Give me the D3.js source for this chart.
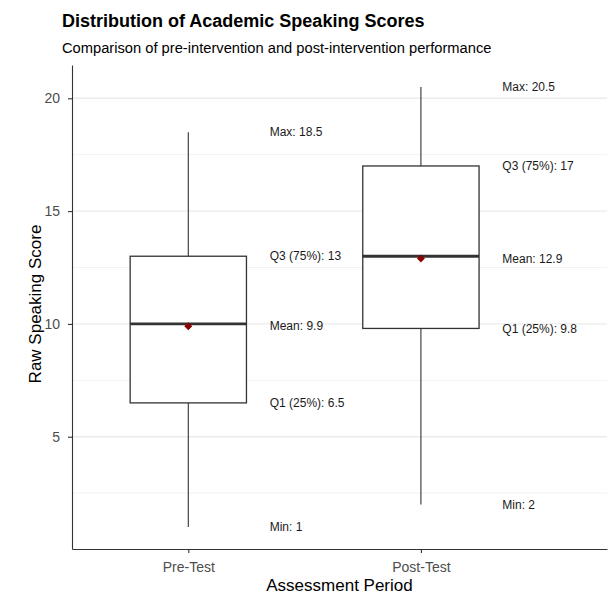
<!DOCTYPE html>
<html>
<head>
<meta charset="utf-8">
<script src="https://cdn.jsdelivr.net/npm/d3@7"></script>
<style>
  body { margin: 0; background: #fff; }
  svg { font-family: "Liberation Sans", Arial, sans-serif; display: block; }
</style>
</head>
<body>
<svg id="chart"></svg>
<script>
// data
const categories = ["Pre-Test", "Post-Test"];
const minScores = [1, 2];
const q1Scores = [6.5, 9.8];
const medianScores = [10, 13];
const q3Scores = [13, 17];
const maxScores = [18.5, 20.5];
const meanScores = [9.9, 12.9];
const yTicks = [5, 10, 15, 20];
const yMinorTicks = [2.5, 7.5, 12.5, 17.5];

const width = 608, height = 595;
const margin = { top: 65, right: 1, bottom: 46, left: 72 };

const svg = d3.select('#chart')
    .attr('width', width)
    .attr('height', height);

// categories sit at 1 and 2, labels are placed at +0.35
const xScale = d3.scaleLinear()
    .domain([0.5, 2.8])
    .range([margin.left, width - margin.right]);

const yScale = d3.scaleLinear()
    .domain([0.025, 21.475])
    .range([height - margin.bottom, margin.top]);

const boxes = categories.map((c, i) => ({
  name: c, pos: i + 1,
  min: minScores[i], q1: q1Scores[i], median: medianScores[i],
  q3: q3Scores[i], max: maxScores[i], mean: meanScores[i]
}));

// gridlines
svg.append('g')
  .selectAll('line')
  .data(yMinorTicks)
  .join('line')
    .attr('x1', margin.left).attr('x2', width - margin.right)
    .attr('y1', d => yScale(d)).attr('y2', d => yScale(d))
    .attr('stroke', '#f2f2f2').attr('stroke-width', 1);

svg.append('g')
  .selectAll('line')
  .data(yTicks)
  .join('line')
    .attr('x1', margin.left).attr('x2', width - margin.right)
    .attr('y1', d => yScale(d)).attr('y2', d => yScale(d))
    .attr('stroke', '#ebebeb').attr('stroke-width', 1.4);

// axes
const yAxis = d3.axisLeft(yScale).tickValues(yTicks)
    .tickSizeInner(4).tickSizeOuter(0).tickPadding(8);
const yAxisG = svg.append('g')
    .attr('transform', `translate(${margin.left},0)`)
    .call(yAxis);
yAxisG.select('.domain').attr('stroke', '#333').attr('stroke-width', 1.1);
yAxisG.selectAll('.tick line').attr('stroke', '#333').attr('stroke-width', 1.1);
yAxisG.selectAll('.tick text').attr('fill', '#4d4d4d').style('font-size', '14px')
    .style('font-family', '"Liberation Sans", Arial, sans-serif');

const xAxis = d3.axisBottom(xScale)
    .tickValues(boxes.map(d => d.pos))
    .tickFormat(d => categories[d - 1])
    .tickSizeInner(4).tickSizeOuter(0).tickPadding(9);
const xAxisG = svg.append('g')
    .attr('transform', `translate(0,${height - margin.bottom})`)
    .call(xAxis);
xAxisG.select('.domain').attr('stroke', '#333').attr('stroke-width', 1.1);
xAxisG.selectAll('.tick line').attr('stroke', '#333').attr('stroke-width', 1.1);
xAxisG.selectAll('.tick text').attr('fill', '#4d4d4d').style('font-size', '14px')
    .style('font-family', '"Liberation Sans", Arial, sans-serif');

// boxplots
const boxW = 0.5;
const g = svg.append('g');

g.selectAll('.whisker')
  .data(boxes)
  .join('line')
    .attr('class', 'whisker')
    .attr('x1', d => xScale(d.pos)).attr('x2', d => xScale(d.pos))
    .attr('y1', d => yScale(d.min)).attr('y2', d => yScale(d.max))
    .attr('stroke', '#333').attr('stroke-width', 1.1);

g.selectAll('.box')
  .data(boxes)
  .join('rect')
    .attr('class', 'box')
    .attr('x', d => xScale(d.pos - boxW / 2))
    .attr('width', d => xScale(d.pos + boxW / 2) - xScale(d.pos - boxW / 2))
    .attr('y', d => yScale(d.q3))
    .attr('height', d => yScale(d.q1) - yScale(d.q3))
    .attr('fill', '#fff').attr('stroke', '#333').attr('stroke-width', 1.3);

g.selectAll('.median')
  .data(boxes)
  .join('line')
    .attr('class', 'median')
    .attr('x1', d => xScale(d.pos - boxW / 2)).attr('x2', d => xScale(d.pos + boxW / 2))
    .attr('y1', d => yScale(d.median)).attr('y2', d => yScale(d.median))
    .attr('stroke', '#333').attr('stroke-width', 2.8);

g.selectAll('.mean')
  .data(boxes)
  .join('path')
    .attr('class', 'mean')
    .attr('d', d3.symbol(d3.symbolDiamond2, 40))
    .attr('transform', d => `translate(${xScale(d.pos)},${yScale(d.mean)})`)
    .attr('fill', '#8b0000');

// annotations next to each box
const labels = [];
boxes.forEach(d => {
  labels.push({ pos: d.pos, v: d.max, t: `Max: ${d.max}` });
  labels.push({ pos: d.pos, v: d.q3, t: `Q3 (75%): ${d.q3}` });
  labels.push({ pos: d.pos, v: d.mean, t: `Mean: ${d.mean}` });
  labels.push({ pos: d.pos, v: d.q1, t: `Q1 (25%): ${d.q1}` });
  labels.push({ pos: d.pos, v: d.min, t: `Min: ${d.min}` });
});

g.selectAll('.ann')
  .data(labels)
  .join('text')
    .attr('class', 'ann')
    .attr('x', d => xScale(d.pos + 0.35))
    .attr('y', d => yScale(d.v))
    .attr('dy', '0.35em')
    .style('font-size', '12px')
    .attr('fill', '#1a1a1a')
    .text(d => d.t);

// titles
svg.append('text')
    .attr('x', 62).attr('y', 27)
    .style('font-size', '18px').style('font-weight', 'bold')
    .attr('fill', '#000')
    .text('Distribution of Academic Speaking Scores');

svg.append('text')
    .attr('x', 62).attr('y', 53)
    .style('font-size', '14.7px')
    .attr('fill', '#000')
    .text('Comparison of pre-intervention and post-intervention performance');

svg.append('text')
    .attr('x', (margin.left + width - margin.right) / 2)
    .attr('y', 591)
    .attr('text-anchor', 'middle')
    .style('font-size', '17px')
    .attr('fill', '#000')
    .text('Assessment Period');

svg.append('text')
    .attr('transform', `translate(41,304) rotate(-90)`)
    .attr('text-anchor', 'middle')
    .style('font-size', '17px')
    .attr('fill', '#000')
    .text('Raw Speaking Score');
</script>
</body>
</html>
